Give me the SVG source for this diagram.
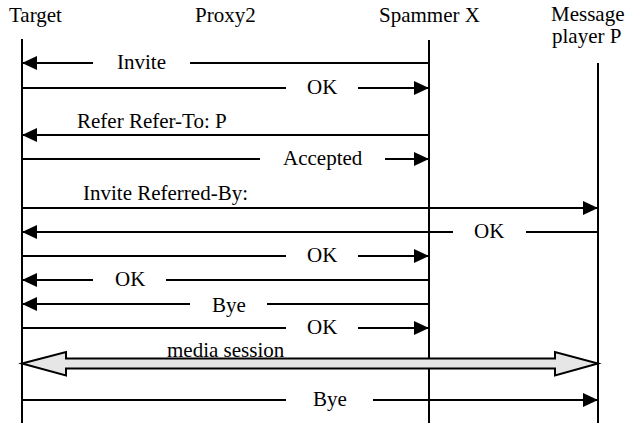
<svg xmlns="http://www.w3.org/2000/svg" width="625" height="423" viewBox="0 0 625 423" font-family="'Liberation Serif', 'Times New Roman', serif">
<style>
  text { font-family: "Liberation Serif", "Times New Roman", serif; font-size: 21px; fill: #000; }
  .life, .msg { stroke: #000; stroke-width: 2; fill: none; }
  .arr { marker-end: url(#ah); }
  .block { fill: #e6e6e6; stroke: #000; stroke-width: 2; stroke-linejoin: miter; }
</style>
<defs>
  <marker id="ah" markerUnits="userSpaceOnUse" markerWidth="16" markerHeight="14" refX="15" refY="7" orient="auto" viewBox="0 0 16 14">
    <path d="M0,0 L15,7 L0,14 z" fill="#000"/>
  </marker>
</defs>
<rect width="625" height="423" fill="#fff"/>

<g id="target">
  <text x="9" y="22">Target</text>
  <line class="life" x1="22" y1="39" x2="22" y2="423"/>
</g>
<g id="proxy2">
  <text x="195" y="22">Proxy2</text>
</g>
<g id="spammer">
  <text x="379" y="22">Spammer X</text>
  <line class="life" x1="429" y1="40" x2="429" y2="423"/>
</g>
<g id="player">
  <text x="551" y="21">Message</text>
  <text x="552" y="43">player P</text>
  <line class="life" x1="598" y1="63" x2="598" y2="423"/>
</g>

<g id="connectors">
  <line class="msg arr" x1="93" y1="63" x2="22" y2="63"/>
  <line class="msg" x1="190" y1="63" x2="429" y2="63"/>
  <text x="117" y="69">Invite</text>
  <line class="msg" x1="22" y1="88" x2="286" y2="88"/>
  <line class="msg arr" x1="358" y1="88" x2="429" y2="88"/>
  <text x="307" y="94">OK</text>
  <line class="msg arr" x1="429" y1="135" x2="22" y2="135"/>
  <text x="77" y="128">Refer Refer-To: P</text>
  <line class="msg" x1="22" y1="159" x2="260" y2="159"/>
  <line class="msg arr" x1="385" y1="159" x2="429" y2="159"/>
  <text x="283" y="165">Accepted</text>
  <line class="msg arr" x1="22" y1="208" x2="598" y2="208"/>
  <text x="83" y="200">Invite Referred-By:</text>
  <line class="msg arr" x1="453" y1="232" x2="22" y2="232"/>
  <line class="msg" x1="526" y1="232" x2="598" y2="232"/>
  <text x="474" y="238">OK</text>
  <line class="msg" x1="22" y1="256" x2="286" y2="256"/>
  <line class="msg arr" x1="358" y1="256" x2="429" y2="256"/>
  <text x="307" y="262">OK</text>
  <line class="msg arr" x1="93" y1="280" x2="22" y2="280"/>
  <line class="msg" x1="166" y1="280" x2="429" y2="280"/>
  <text x="115" y="286">OK</text>
  <line class="msg arr" x1="190" y1="304" x2="22" y2="304"/>
  <line class="msg" x1="267" y1="304" x2="429" y2="304"/>
  <text x="212" y="312">Bye</text>
  <line class="msg" x1="22" y1="328" x2="286" y2="328"/>
  <line class="msg arr" x1="358" y1="328" x2="429" y2="328"/>
  <text x="307" y="334">OK</text>
  <path class="block" d="M22,363.5 L66,352 L66,358.5 L555,358.5 L555,352 L598,363.5 L555,375.5 L555,368.5 L66,368.5 L66,375.5 Z"/>
  <text x="167" y="357">media session</text>
  <line class="msg" x1="22" y1="400" x2="286" y2="400"/>
  <line class="msg arr" x1="373" y1="400" x2="598" y2="400"/>
  <text x="313" y="406">Bye</text>
</g>
</svg>
